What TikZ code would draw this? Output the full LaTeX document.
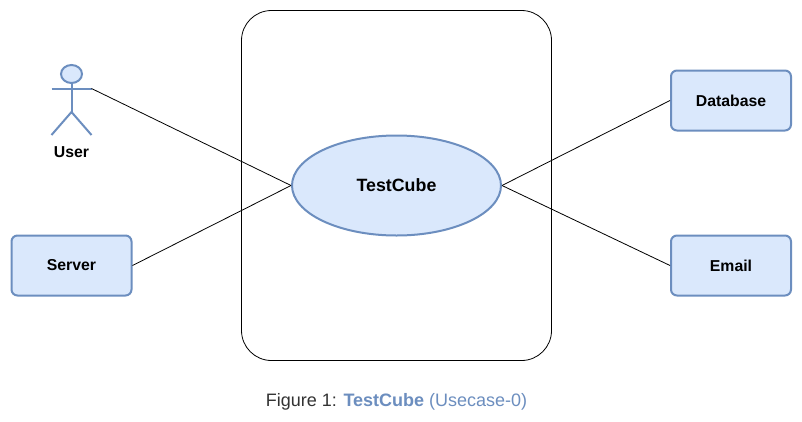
\documentclass[tikz,border=0pt]{standalone}
\usepackage{fontspec}
\setmainfont{Liberation Sans}
\usetikzlibrary{shapes.geometric}
\definecolor{bluefill}{HTML}{DAE8FC}
\definecolor{blueline}{HTML}{6C8EBF}
\tikzset{x=1pt,y=-1pt,
  actorbox/.style={draw=blueline,fill=bluefill,line width=2pt,rounded corners=6pt,minimum width=120pt,minimum height=60pt,font=\bfseries\fontsize{15.8}{18}\selectfont,inner sep=0pt},
  usecase/.style={draw=blueline,fill=bluefill,line width=2pt,ellipse,minimum width=209pt,minimum height=100pt,inner sep=0pt,font=\bfseries\fontsize{17.8}{20}\selectfont},
  lbl/.style={font=\bfseries\fontsize{15.8}{18}\selectfont,inner sep=0pt},
  link/.style={draw=black,line width=0.8pt},
  stick/.style={draw=blueline,line width=2pt}}
\begin{document}
\begin{tikzpicture}
\useasboundingbox (0,0) rectangle (802,421);
\fill[white] (0,0) rectangle (802,421);
\node[draw=black,line width=0.8pt,rounded corners=30pt,minimum width=310pt,minimum height=350pt,inner sep=0pt] (system) at (396.5,185.5) {};
\node[usecase] (cube) at (396.5,185.5) {TestCube};
\node[actorbox] (server) at (71.5,265.5) {Server};
\node[actorbox] (db) at (731,100.5) {Database};
\node[actorbox] (email) at (731,265.5) {Email};
\node[draw=blueline,fill=bluefill,line width=2pt,ellipse,minimum width=21pt,minimum height=18pt,inner sep=0pt] (head) at (71.5,74) {};
\coordinate (hip) at (71.5,112);
\coordinate (armL) at (51.5,88.5);
\coordinate (armR) at (91.5,88.5);
\coordinate (footL) at (51.5,135);
\coordinate (footR) at (91.5,135);
\draw[stick] (head.south) -- (hip);
\draw[stick] (armL) -- (armR);
\draw[stick] (footL) -- (hip) -- (footR);
\node[lbl] (user) at (71.5,152.5) {User};
\draw[link] (armR) -- (cube.west);
\draw[link] (server.east) -- (cube.west);
\draw[link] (cube.east) -- (db.west);
\draw[link] (cube.east) -- (email.west);
\node[inner sep=0pt,font=\fontsize{18}{20}\selectfont,text=black!80] (cap) at (396.5,401.5) {Figure 1: \textcolor{blueline}{\textbf{TestCube} (Usecase-0)}};
\end{tikzpicture}
\end{document}
